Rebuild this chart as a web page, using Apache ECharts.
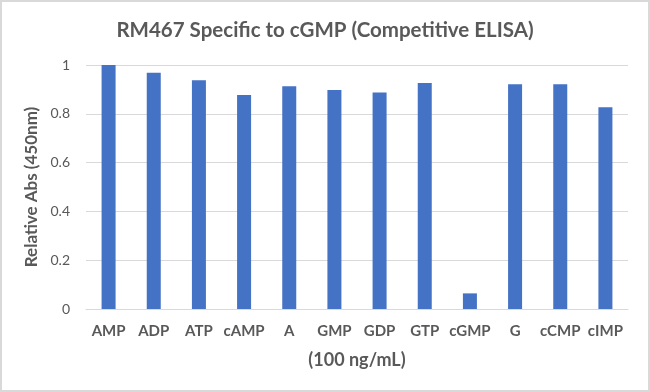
<!DOCTYPE html>
<html><head><meta charset="utf-8">
<script src="https://cdn.jsdelivr.net/npm/echarts@6/dist/echarts.min.js"></script>
<style>html,body{margin:0;padding:0;background:#fff}#c{width:646px;height:388px;border:2px solid #d9d9d9;}</style>
</head><body><div id="c"></div>
<script>
const categories = ['AMP','ADP','ATP','cAMP','A','GMP','GDP','GTP','cGMP','G','cCMP','cIMP'];
const values = [1.0, 0.968, 0.937, 0.877, 0.913, 0.898, 0.887, 0.926, 0.064, 0.921, 0.921, 0.827];
const yTicks = [0, 0.2, 0.4, 0.6, 0.8, 1];
const font = 'Lato, "Open Sans", sans-serif';
const chart = echarts.init(document.getElementById('c'));
chart.setOption({
  animation:false,
  title:{text:'RM467 Specific to cGMP (Competitive ELISA)',left:'center',top:13,
    textStyle:{fontFamily:font,fontSize:20.5,fontWeight:'bold',color:'#595959'}},
  grid:{left:84,right:20,top:63,bottom:81},
  xAxis:{type:'category',data:categories,
    axisLine:{lineStyle:{color:'#d9d9d9'}},axisTick:{show:false},
    axisLabel:{color:'#595959',fontFamily:font,fontSize:15,fontWeight:'bold',margin:15,interval:0},
    name:'(100 ng/mL)',nameLocation:'middle',nameGap:42,
    nameTextStyle:{color:'#595959',fontFamily:font,fontSize:18,fontWeight:'bold'}},
  yAxis:{type:'value',min:0,max:1,interval:0.2,
    axisLabel:{color:'#595959',fontFamily:font,fontSize:14,margin:16,formatter:v=>{const t=yTicks.find(x=>Math.abs(x-v)<1e-9);return String(t!==undefined?t:v);}},
    splitLine:{lineStyle:{color:'#d9d9d9'}},
    name:'Relative Abs (450nm)',nameLocation:'middle',nameGap:37,
    nameTextStyle:{color:'#595959',fontFamily:font,fontSize:17,fontWeight:'bold'}},
  series:[{type:'bar',data:values,barWidth:14,itemStyle:{color:'#4472C4'}}]
});
</script></body></html>
